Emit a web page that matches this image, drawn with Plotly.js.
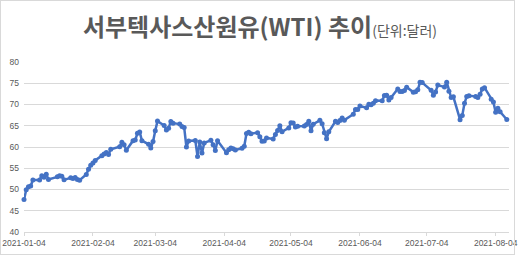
<!DOCTYPE html>
<html>
<head>
<meta charset="utf-8">
<script src="https://cdn.plot.ly/plotly-3.0.1.min.js"></script>
<style>
html,body{margin:0;padding:0;background:#fff;}
#wrap{position:relative;width:520px;height:255px;}
#chart{width:520px;height:255px;}
#frame{position:absolute;left:0;top:0;width:513px;height:253px;border:1px solid #d9d9d9;pointer-events:none;}
</style>
</head>
<body>
<div id="wrap"><div id="chart"></div><div id="frame"></div></div>
<script>
const dates = [
"2021-01-04","2021-01-05","2021-01-06","2021-01-07","2021-01-08","2021-01-11","2021-01-12","2021-01-13","2021-01-14","2021-01-15",
"2021-01-19","2021-01-20","2021-01-21","2021-01-22","2021-01-25","2021-01-26","2021-01-27","2021-01-28","2021-01-29",
"2021-02-01","2021-02-02","2021-02-03","2021-02-04","2021-02-05","2021-02-08","2021-02-09","2021-02-10","2021-02-11","2021-02-12",
"2021-02-16","2021-02-17","2021-02-18","2021-02-19","2021-02-22","2021-02-23","2021-02-24","2021-02-25","2021-02-26",
"2021-03-01","2021-03-02","2021-03-03","2021-03-04","2021-03-05","2021-03-08","2021-03-09","2021-03-10","2021-03-11","2021-03-12",
"2021-03-15","2021-03-16","2021-03-17","2021-03-18","2021-03-19","2021-03-22","2021-03-23","2021-03-24","2021-03-25","2021-03-26",
"2021-03-29","2021-03-30","2021-03-31","2021-04-01","2021-04-05","2021-04-06","2021-04-07","2021-04-08","2021-04-09",
"2021-04-12","2021-04-13","2021-04-14","2021-04-15","2021-04-16","2021-04-19","2021-04-20","2021-04-21","2021-04-22","2021-04-23",
"2021-04-26","2021-04-27","2021-04-28","2021-04-29","2021-04-30","2021-05-03","2021-05-04","2021-05-05","2021-05-06","2021-05-07",
"2021-05-10","2021-05-11","2021-05-12","2021-05-13","2021-05-14","2021-05-17","2021-05-18","2021-05-19","2021-05-20","2021-05-21",
"2021-05-24","2021-05-25","2021-05-26","2021-05-27","2021-05-28","2021-06-01","2021-06-02","2021-06-03","2021-06-04",
"2021-06-07","2021-06-08","2021-06-09","2021-06-10","2021-06-11","2021-06-14","2021-06-15","2021-06-16","2021-06-17","2021-06-18",
"2021-06-21","2021-06-22","2021-06-23","2021-06-24","2021-06-25","2021-06-28","2021-06-29","2021-06-30","2021-07-01","2021-07-02",
"2021-07-06","2021-07-07","2021-07-08","2021-07-09","2021-07-12","2021-07-13","2021-07-14","2021-07-15","2021-07-16",
"2021-07-19","2021-07-20","2021-07-21","2021-07-22","2021-07-23","2021-07-26","2021-07-27","2021-07-28","2021-07-29","2021-07-30",
"2021-08-02","2021-08-03","2021-08-04","2021-08-05","2021-08-06","2021-08-09"
];
const prices = [
47.62,49.93,50.63,50.83,52.24,52.25,53.21,52.91,53.57,52.36,
52.98,53.24,53.13,52.27,52.77,52.61,52.85,52.34,52.20,
53.55,54.76,55.69,56.23,56.85,57.97,58.36,58.68,58.24,59.47,
60.05,61.14,60.52,59.24,61.49,61.67,63.22,63.53,61.50,
60.64,59.75,61.28,63.83,66.09,65.05,64.01,64.44,66.02,65.61,
65.39,64.80,64.60,60.00,61.42,61.55,57.76,61.18,58.56,60.97,
61.56,60.55,59.16,61.45,58.65,59.33,59.77,59.60,59.32,
59.70,60.18,63.15,63.46,63.13,63.38,62.44,61.35,61.43,62.14,
61.91,62.94,63.86,65.01,63.58,64.49,65.69,65.63,64.71,64.90,
64.92,65.28,66.08,63.82,65.37,66.27,65.49,63.36,61.94,63.58,
66.05,65.76,66.21,66.85,66.32,67.72,68.83,68.81,69.62,
69.23,70.05,69.96,70.29,70.91,70.88,72.12,72.15,71.04,71.64,
73.66,73.06,73.08,73.30,74.05,72.91,72.98,73.47,75.23,75.16,
73.37,72.20,72.94,74.56,74.10,75.25,73.13,71.65,71.81,
66.42,67.42,70.30,71.91,72.07,71.91,71.65,72.39,73.62,73.95,
71.26,70.56,68.15,69.09,68.28,66.48
];
const tickDates = ["2021-01-04","2021-02-04","2021-03-04","2021-04-04","2021-05-04","2021-06-04","2021-07-04","2021-08-04"];
const yTicks = [40,45,50,55,60,65,70,75,80];
const titleMain = "서부텍사스산원유(WTI) 추이";
const titleUnit = "(단위:달러)";

const trace = {
  x: dates, y: prices, type: "scatter", mode: "lines+markers",
  line: {color: "#4472C4", width: 2.5},
  marker: {color: "#4472C4", size: 5},
  cliponaxis: false,
  hoverinfo: "x+y"
};
const layout = {
  width: 520, height: 255,
  margin: {l: 24, r: 11, t: 62, b: 23, pad: 0},
  paper_bgcolor: "#ffffff", plot_bgcolor: "#ffffff",
  showlegend: false,
  font: {family: "'Noto Sans CJK KR', 'Liberation Sans', sans-serif", color: "#595959"},
  title: {
    text: "<b>" + titleMain + "</b><span style='font-size:14px'>" + titleUnit + "</span>",
    font: {size: 24, color: "#595959", family: "'Noto Sans CJK KR', sans-serif"},
    x: 0.5, xanchor: "center", xref: "container",
    y: 0.89, yanchor: "middle", yref: "container"
  },
  xaxis: {
    type: "date",
    range: ["2021-01-04", "2021-08-10"],
    tickvals: tickDates, ticktext: tickDates,
    tickfont: {size: 8.5, color: "#595959", family: "'Liberation Sans', sans-serif"},
    showgrid: false, zeroline: false,
    showline: true, linecolor: "#d9d9d9", linewidth: 1,
    ticks: "outside", ticklen: 3, tickcolor: "#d9d9d9", tickwidth: 1
  },
  yaxis: {
    range: [40, 80],
    tickvals: yTicks,
    tickfont: {size: 8.5, color: "#595959", family: "'Liberation Sans', sans-serif"},
    showgrid: true, gridcolor: "#d9d9d9", gridwidth: 1,
    zeroline: false, showline: false, ticks: "", ticklabelstandoff: 4
  }
};
Plotly.newPlot("chart", [trace], layout, {displayModeBar: false, staticPlot: true});
</script>
</body>
</html>
